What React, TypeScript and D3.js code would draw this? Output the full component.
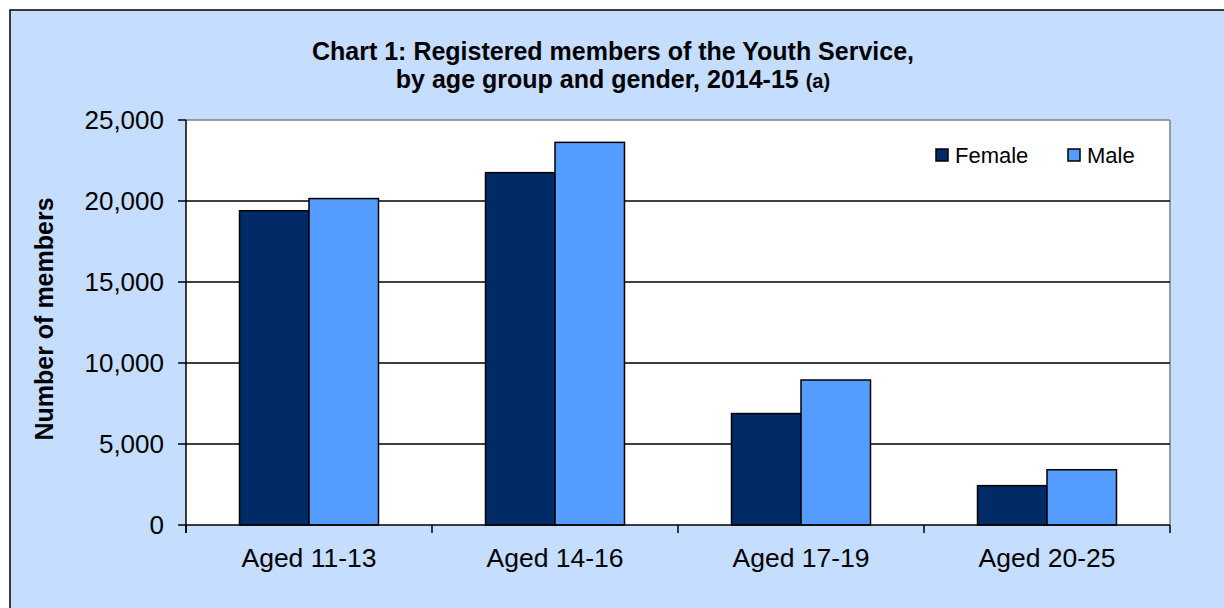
import React from "react";
import * as d3 from "d3";

const categories = ["Aged 11-13", "Aged 14-16", "Aged 17-19", "Aged 20-25"];
const seriesNames = ["Female", "Male"];
const female = [19400, 21750, 6880, 2430];
const male = [20150, 23620, 8950, 3410];
const yTicks = [0, 5000, 10000, 15000, 20000, 25000];

const colors: Record<string, string> = { Female: "#002B66", Male: "#559CFF" };

const W = 1224;
const H = 608;
const margin = { left: 186, right: 54, top: 120, bottom: 83 };

function App() {
  const x = d3
    .scaleBand()
    .domain(categories)
    .range([margin.left, W - margin.right]);
  const bw = x.bandwidth();
  const groupW = bw * 0.565;
  const xSub = d3
    .scaleBand()
    .domain(seriesNames)
    .range([(bw - groupW) / 2, (bw + groupW) / 2]);
  const y = d3
    .scaleLinear()
    .domain([0, 25000])
    .range([H - margin.bottom, margin.top]);

  const fmt = d3.format(",");
  const values: Record<string, number[]> = { Female: female, Male: male };
  const x0 = margin.left;
  const x1 = W - margin.right;
  const font = "'Liberation Sans', Arial, sans-serif";

  return (
    <svg
      width={W}
      height={H}
      style={{ position: "absolute", left: 0, top: 0, display: "block" }}
      fontFamily={font}
    >
      <rect x={0} y={0} width={W} height={H} fill="#fff" />
      <rect x={10} y={10} width={W + 20} height={H + 20} fill="#C5DDFF" stroke="#000" strokeWidth={1.5} />

      <text x={613} y={60} textAnchor="middle" fontSize={25} fontWeight="bold" fill="#000">
        Chart 1: Registered members of the Youth Service,
      </text>
      <text x={613} y={88} textAnchor="middle" fontSize={25} fontWeight="bold" fill="#000">
        by age group and gender, 2014-15{" "}
        <tspan fontSize={20}>(a)</tspan>
      </text>

      {/* plot area */}
      <rect x={x0} y={y(25000)} width={x1 - x0} height={y(0) - y(25000)} fill="#fff" />
      <line x1={x0} x2={x1} y1={y(25000)} y2={y(25000)} stroke="#808080" strokeWidth={1.5} />
      <line x1={x1} x2={x1} y1={y(25000)} y2={y(0)} stroke="#808080" strokeWidth={1.5} />
      {yTicks
        .filter((t) => t > 0 && t < 25000)
        .map((t) => (
          <line key={t} x1={x0} x2={x1} y1={y(t)} y2={y(t)} stroke="#000" strokeWidth={1.5} />
        ))}

      {categories.map((c, i) => (
        <g key={c} transform={`translate(${x(c)},0)`}>
          {seriesNames.map((s) => (
            <rect
              key={s}
              x={xSub(s)}
              y={y(values[s][i])}
              width={xSub.bandwidth()}
              height={y(0) - y(values[s][i])}
              fill={colors[s]}
              stroke="#000"
              strokeWidth={1.5}
            />
          ))}
        </g>
      ))}

      {/* y axis */}
      <line x1={x0} x2={x0} y1={y(25000)} y2={y(0) + 8} stroke="#000" strokeWidth={1.5} />
      {yTicks.map((t) => (
        <g key={t}>
          <line x1={x0 - 8} x2={x0} y1={y(t)} y2={y(t)} stroke="#000" strokeWidth={1.5} />
          <text x={x0 - 22} y={y(t)} dy="0.35em" textAnchor="end" fontSize={26} fill="#000">
            {fmt(t)}
          </text>
        </g>
      ))}

      {/* x axis */}
      <line x1={x0} x2={x1} y1={y(0)} y2={y(0)} stroke="#000" strokeWidth={1.5} />
      {[...categories.map((c) => x(c) as number), x1].map((p, i) => (
        <line key={i} x1={p} x2={p} y1={y(0)} y2={y(0) + 8} stroke="#000" strokeWidth={1.5} />
      ))}
      {categories.map((c) => (
        <text key={c} x={(x(c) as number) + bw / 2} y={567} textAnchor="middle" fontSize={26.5} fill="#000">
          {c}
        </text>
      ))}

      <text
        transform="translate(53,319) rotate(-90)"
        textAnchor="middle"
        fontSize={25}
        fontWeight="bold"
        fill="#000"
      >
        Number of members
      </text>

      {/* legend */}
      {seriesNames.map((s, i) => (
        <g key={s} transform={`translate(${936 + i * 132},149)`}>
          <rect x={0} y={0} width={12} height={12} fill={colors[s]} stroke="#000" strokeWidth={1.5} />
          <text x={19} y={13.5} fontSize={22} fill="#000">
            {s}
          </text>
        </g>
      ))}
    </svg>
  );
}

export default App;
